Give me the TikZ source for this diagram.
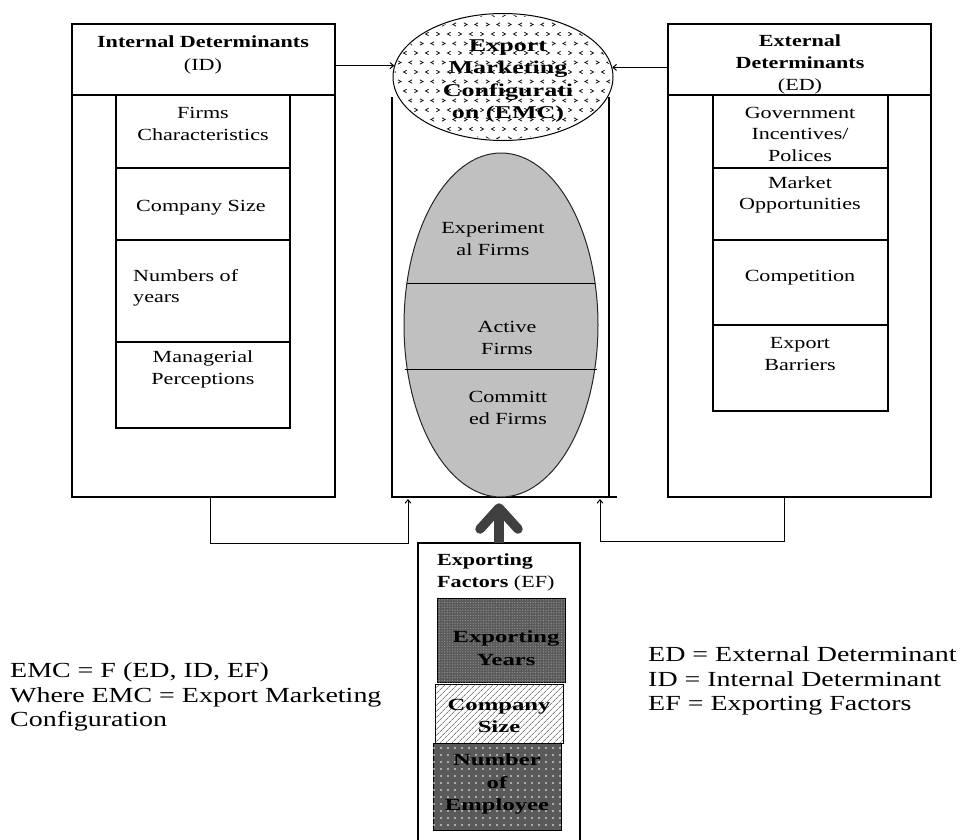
\documentclass[tikz,border=0pt]{standalone}
\usepackage{fontspec}
\setmainfont[FakeStretch=1.3]{Liberation Serif}
\newfontfamily\widefont[FakeStretch=1.45]{Liberation Serif}
\usetikzlibrary{shapes.geometric, arrows.meta, patterns, patterns.meta, calc}
\definecolor{firmgray}{HTML}{C0C0C0}
\definecolor{arrowgray}{HTML}{404040}
\definecolor{darkfill}{HTML}{5A5A5A}
\definecolor{dotgray}{HTML}{9A9A9A}
\tikzset{
  frame/.style={draw=black, line width=1.2pt, inner sep=0pt, outer sep=0pt, rectangle},
  txt/.style={inner sep=0pt, align=center, font=\fontsize{17}{21.5}\selectfont},
  wtxt/.style={inner sep=0pt, align=center, font=\widefont\bfseries\fontsize{17}{22.5}\selectfont},
  legend/.style={inner sep=0pt, align=left, anchor=west, font=\fontsize{21.5}{24.5}\selectfont},
  conn/.style={line width=1pt, -{Straight Barb[length=3.5pt,width=6pt]}},
  fat/.style={draw=arrowgray, line width=9.5pt},
  chev/.style={line width=0.7pt},
  plain/.style={line width=1.2pt}
}
\begin{document}
\begin{tikzpicture}[x=1pt, y=-1pt]
\useasboundingbox (0,0) rectangle (962,839);

% ---------- Internal determinants ----------
\node[frame, minimum width=263, minimum height=473] (idbox) at (203.5,260.5) {};
\node[frame, minimum width=263, minimum height=71] (idhead) at (203.5,59.5) {};
\node[frame, minimum width=174, minimum height=73] (id1) at (203,131.5) {};
\node[frame, minimum width=174, minimum height=72] (id2) at (203,204) {};
\node[frame, minimum width=174, minimum height=102] (id3) at (203,291) {};
\node[frame, minimum width=174, minimum height=86] (id4) at (203,385) {};
\node[txt] (idhead-t) at (203,55) {\textbf{Internal Determinants}\\[2pt](ID)};
\node[txt] (id1-t) at (203,124) {Firms\\Characteristics};
\node[txt] (id2-t) at (201,208) {Company Size};
\node[txt, align=left, anchor=west] (id3-t) at (133,288) {Numbers of\\years};
\node[txt] (id4-t) at (203,369.5) {Managerial\\Perceptions};

% ---------- External determinants ----------
\node[frame, minimum width=263, minimum height=473] (edbox) at (799.5,260.5) {};
\node[frame, minimum width=263, minimum height=71] (edhead) at (799.5,59.5) {};
\node[frame, minimum width=175, minimum height=73] (ed1) at (800.5,131.5) {};
\node[frame, minimum width=175, minimum height=72] (ed2) at (800.5,204) {};
\node[frame, minimum width=175, minimum height=85] (ed3) at (800.5,282.5) {};
\node[frame, minimum width=175, minimum height=86] (ed4) at (800.5,368) {};
\node[txt] (edhead-t) at (800,64.5) {\textbf{External}\\\textbf{Determinants}\\[1pt](ED)};
\node[txt] (ed1-t) at (800,134) {Government\\Incentives/\\Polices};
\node[txt] (ed2-t) at (800,195) {Market\\Opportunities};
\node[txt] (ed3-t) at (800,278) {Competition};
\node[txt] (ed4-t) at (800,354) {Export\\Barriers};

% ---------- Central frame ----------
\draw[plain] (392,97) -- (392,497) -- (617,497);
\draw[plain] (609,97) -- (609,497);

% ---------- Firms ellipse ----------
\node[ellipse, draw=black!85, line width=1pt, fill=firmgray, minimum width=194, minimum height=344, inner sep=0pt] (firms) at (501,325) {};
\draw[line width=1pt] (407,283) -- (595,283);
\draw[line width=1pt] (405,369) -- (597,369);
\node[txt] (firms1) at (493,239) {Experiment\\al Firms};
\node[txt] (firms2) at (507,338) {Active\\Firms};
\node[txt] (firms3) at (508,408) {Committ\\ed Firms};

% ---------- EMC ellipse ----------
\node[ellipse, draw=black, line width=1pt, fill=white, minimum width=220, minimum height=127, inner sep=0pt] (emc) at (503,77) {};
\begin{scope}
  \clip (emc.center) ellipse [x radius=108.5pt, y radius=62pt];
  \foreach \r in {0,...,13} {
    \foreach \c in {0,...,20} {
      \pgfmathsetmacro{\xx}{394+\c*11+5.5*mod(\r,2)}
      \pgfmathsetmacro{\yy}{15+\r*9.5}
      \pgfmathsetmacro{\xa}{\xx-1.6*(1-2*mod(\c,2))}
      \pgfmathsetmacro{\xb}{\xx+1.6*(1-2*mod(\c,2))}
      \draw[chev] (\xa,\yy-1.7) -- (\xb,\yy) -- (\xa,\yy+1.7);
    }
  }
\end{scope}
\node[inner sep=0pt, align=center, font=\widefont\bfseries\fontsize{18}{22.5}\selectfont] (emc-t) at (508,81) {Export\\Marketing\\Configurati\\on (EMC)};

% ---------- arrows into EMC ----------
\draw[conn] (idhead.east |- emc.174.7) -- (emc.174.7);
\draw[conn] (edhead.west |- emc.5.3) -- (emc.5.3);

% ---------- feedback connectors ----------
\coordinate (idout) at (210,497);
\coordinate (cin1) at (408,499);
\coordinate (edout) at (784,497);
\coordinate (cin2) at (600,499);
\draw[conn] (idout) -- ++(0,46) -| (cin1);
\draw[conn] (edout) -- ++(0,44) -| (cin2);

% ---------- Exporting factors ----------
\node[frame, minimum width=162, minimum height=310, anchor=north] (ef) at (499,543) {};
\node[txt, align=left, anchor=west] (ef-t) at (437,572.5) {\textbf{Exporting}\\\textbf{Factors} (EF)};
\node[frame, line width=1pt, fill=darkfill, postaction={pattern={Dots[distance=2.6pt, radius=0.6pt]}, pattern color=dotgray}, minimum width=128, minimum height=84] (years) at (501,640) {};
\node[frame, line width=1pt, fill=white, postaction={pattern={Lines[angle=45, distance=4pt, line width=0.5pt]}, pattern color=black!75}, minimum width=128, minimum height=59] (csize) at (499,713.5) {};
\node[frame, line width=1pt, fill=darkfill, postaction={pattern={Dots[distance=7pt, radius=0.8pt]}, pattern color=white}, minimum width=128, minimum height=87] (emp) at (497,786.5) {};
\node[wtxt] (years-t) at (506,648) {Exporting\\Years};
\node[wtxt] (csize-t) at (499,716) {Company\\Size};
\node[wtxt] (emp-t) at (497,784) {Number\\of\\Employee};

% ---------- thick arrow ----------
\coordinate (tip) at (499,508);
\draw[fat] (ef.north) -- (tip);
\draw[fat, line cap=round, line join=round] ($(tip)+(-19,21)$) -- (tip) -- ($(tip)+(19,21)$);

% ---------- legends ----------
\node[legend] (eq) at (10,697) {EMC = F (ED, ID, EF)\\Where EMC = Export Marketing\\Configuration};
\node[legend] (abbr) at (648,681) {ED = External Determinant\\ID = Internal Determinant\\EF = Exporting Factors};
\end{tikzpicture}
\end{document}
